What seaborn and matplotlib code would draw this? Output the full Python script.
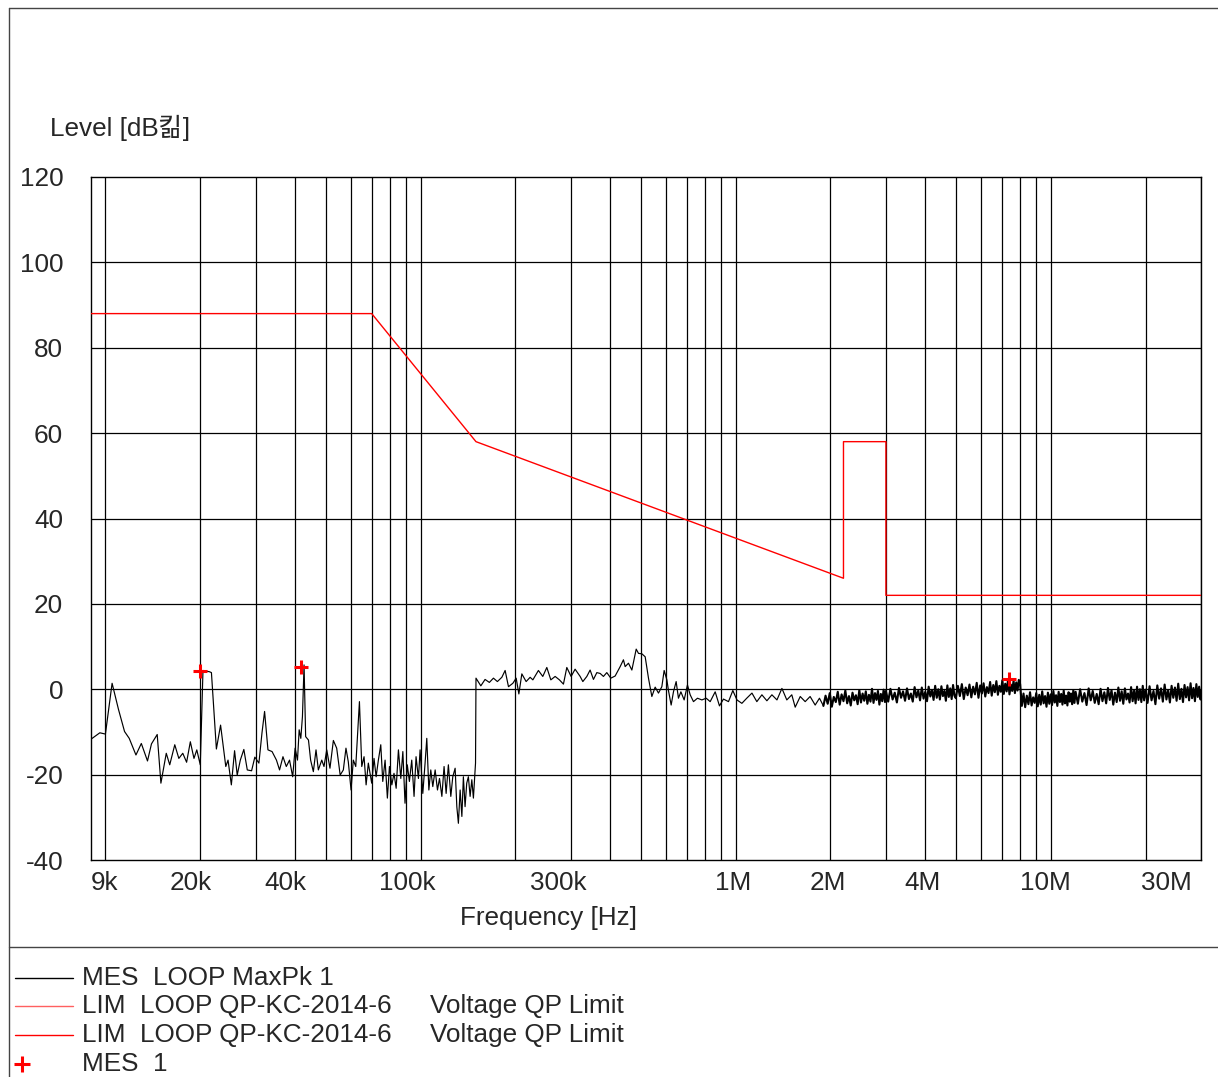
import numpy as np
import pandas as pd
import matplotlib
matplotlib.use('Agg')
from matplotlib import pyplot as plt
from matplotlib.lines import Line2D
from matplotlib.ticker import FixedLocator, NullFormatter
import matplotlib.transforms as mtransforms
import seaborn as sns

# MES LOOP MaxPk 1, 9k - 150k (kHz, dB)
freq_lo_khz = [9.0, 9.6, 10.0, 10.5, 11.0, 11.5, 11.9, 12.5, 13.0, 13.6,
               14.0, 14.6, 15.0, 15.6, 16.0, 16.6, 17.1, 17.6, 18.1, 18.6,
               19.1, 19.5, 20.0, 20.4, 21.4, 21.7, 22.5, 23.2, 24.1, 24.5,
               25.1, 25.7, 26.2, 26.8, 27.5, 28.2, 29.1, 29.8, 30.7, 31.4,
               32.0, 32.8, 33.8, 34.9, 35.7, 36.6, 37.5, 38.4, 39.3, 40.0,
               40.7, 41.2, 41.7, 42.2, 42.7, 43.2, 44.1, 44.8, 45.7, 46.6,
               47.4, 48.6, 49.4, 50.4, 51.6, 52.9, 54.2, 55.6, 56.9, 58.0,
               59.0, 60.2, 61.2, 62.3, 64.0, 65.1, 66.2, 67.2, 68.3, 70.0,
               71.2, 72.3, 73.5, 74.8, 75.9, 77.2, 78.5, 79.7, 81.1, 82.4,
               83.7, 85.1, 86.6, 87.9, 89.3, 90.8, 92.2, 93.8, 95.4, 96.8,
               98.5, 99.7, 101.7, 103.4, 104.7, 106.3, 107.8, 109.4, 111.3, 113.2,
               114.9, 116.9, 118.8, 120.6, 122.6, 124.8, 126.6, 128.8, 130.4, 131.9,
               133.6, 135.3, 136.8, 138.5, 140.2, 141.9, 143.7, 145.5, 147.2, 149.5]
level_lo = [-11.7, -10.2, -10.5, 1.4, -4.7, -9.9, -11.5, -15.4, -12.7, -16.8,
            -12.8, -10.6, -22.0, -15.0, -17.7, -13.0, -16.2, -15.0, -17.1, -12.3,
            -16.2, -14.2, -17.7, 4.4, 4.1, 3.9, -14.0, -8.4, -18.1, -16.6,
            -22.4, -14.4, -20.1, -16.6, -14.1, -18.9, -19.1, -15.9, -17.3, -10.2,
            -5.2, -14.2, -14.6, -16.6, -18.9, -15.8, -18.1, -16.6, -20.5, -13.8,
            -16.6, -9.5, -11.5, -6.4, 5.7, -11.1, -11.9, -16.6, -19.3, -14.2,
            -18.9, -16.6, -18.1, -14.2, -18.5, -12.0, -13.8, -20.1, -18.9, -13.8,
            -17.0, -23.6, -16.6, -18.1, -2.9, -18.1, -15.8, -22.4, -17.3, -22.0,
            -16.2, -20.5, -16.6, -13.0, -21.6, -16.6, -25.5, -18.1, -22.4, -19.7,
            -23.2, -14.2, -20.9, -14.6, -26.7, -17.7, -21.6, -16.6, -25.1, -15.8,
            -20.9, -14.2, -24.4, -17.3, -11.5, -23.6, -18.9, -22.8, -18.9, -23.6,
            -20.9, -25.1, -18.1, -24.4, -17.7, -25.1, -20.5, -18.5, -27.5, -31.4,
            -23.6, -29.8, -20.5, -27.5, -22.0, -20.5, -25.1, -21.2, -25.5, -17.3]

# 150k - 1.85M (kHz, dB)
freq_mid_khz = [150.0, 155.4, 160.3, 165.4, 170.4, 175.4, 181.2, 185.6, 190.2, 196.4,
                201.2, 205.2, 209.7, 216.4, 222.8, 227.3, 236.7, 244.4, 251.7, 259.2,
                267.5, 276.0, 284.2, 291.3, 300.6, 309.5, 321.1, 327.5, 337.2, 345.4,
                353.9, 362.8, 371.7, 380.7, 390.2, 401.8, 414.7, 430.2, 440.6, 446.2,
                457.1, 468.6, 483.7, 491.9, 504.3, 516.5, 529.1, 542.3, 555.6, 569.2,
                583.4, 593.3, 605.2, 612.3, 624.5, 635.1, 647.7, 658.7, 670.5, 686.7,
                703.5, 717.6, 735.1, 756.9, 781.6, 806.7, 830.6, 861.5, 888.9, 915.3,
                949.5, 980.1, 1010, 1047, 1085, 1127, 1168, 1212, 1257, 1304,
                1353, 1403, 1454, 1508, 1546, 1604, 1663, 1724, 1789, 1846]
level_mid = [2.6, 0.8, 2.3, 1.6, 2.6, 1.8, 2.8, 4.4, 0.6, 1.4,
             2.6, -1.1, 3.6, 1.8, 2.8, 2.2, 4.4, 3.0, 5.1, 2.2,
             3.0, 2.2, 1.2, 5.1, 3.0, 4.7, 3.0, 1.8, 3.0, 4.5,
             2.3, 3.9, 3.7, 3.0, 3.9, 2.6, 3.1, 5.3, 6.9, 5.3,
             6.1, 4.5, 9.4, 8.4, 8.3, 7.6, 2.6, -1.7, 0.5, -0.9,
             0.6, 4.4, 2.2, -0.3, -3.7, -0.6, 1.8, -2.1, -0.6, -2.5,
             1.0, -1.3, -2.9, -2.1, -2.5, -2.1, -2.9, -0.6, -3.9, -2.3,
             -2.9, -0.3, -2.5, -3.3, -2.1, -0.9, -2.9, -1.3, -2.7, -1.3,
             -2.5, 0.2, -2.5, -1.3, -4.2, -1.7, -2.9, -1.7, -3.7, -2.1]

# 1.9M - 30M, dense sweep (MHz, dB)
freq_hi_mhz = [1.90, 1.93, 1.96, 1.99, 2.02, 2.05, 2.08, 2.11, 2.14, 2.17,
               2.20, 2.23, 2.26, 2.29, 2.32, 2.35, 2.38, 2.41, 2.44, 2.47,
               2.50, 2.53, 2.56, 2.59, 2.62, 2.65, 2.68, 2.71, 2.74, 2.77,
               2.80, 2.83, 2.86, 2.89, 2.92, 2.95, 2.98,
               3.00, 3.05, 3.10, 3.15, 3.20, 3.25, 3.30, 3.35, 3.40, 3.45,
               3.50, 3.55, 3.60, 3.65, 3.70, 3.75, 3.80, 3.85, 3.90, 3.95,
               4.00, 4.05, 4.10, 4.15, 4.20, 4.25, 4.30, 4.35, 4.40, 4.45,
               4.50, 4.55, 4.60, 4.65, 4.70, 4.75, 4.80, 4.85, 4.90, 4.95,
               5.000, 5.075, 5.150, 5.225, 5.300, 5.375, 5.450, 5.525, 5.600, 5.675,
               5.750, 5.825, 5.900, 5.975, 6.050, 6.125, 6.200, 6.275, 6.350, 6.425,
               6.500, 6.575, 6.650, 6.725, 6.800, 6.875, 6.950, 7.025, 7.100, 7.175,
               7.250, 7.325, 7.400, 7.475, 7.550, 7.625, 7.700, 7.775, 7.850, 7.925,
               8.000,
               8.1, 8.2, 8.3, 8.4, 8.5, 8.6, 8.7, 8.8, 8.9, 9.0,
               9.1, 9.2, 9.3, 9.4, 9.5, 9.6, 9.7, 9.8, 9.9, 10.0,
               10.1, 10.2, 10.3, 10.4, 10.5, 10.6, 10.7, 10.8, 10.9, 11.0,
               11.1, 11.2, 11.3, 11.4, 11.5, 11.6, 11.7, 11.8, 11.9,
               12.0, 12.2, 12.4, 12.6, 12.8, 13.0, 13.2, 13.4, 13.6, 13.8,
               14.0, 14.2, 14.4, 14.6, 14.8, 15.0, 15.2, 15.4, 15.6, 15.8,
               16.0, 16.2, 16.4, 16.6, 16.8, 17.0, 17.2, 17.4, 17.6, 17.8,
               18.0, 18.2, 18.4, 18.6, 18.8, 19.0, 19.2, 19.4, 19.6, 19.8,
               20.0, 20.3, 20.6, 20.9, 21.2, 21.5, 21.8, 22.1, 22.4, 22.7,
               23.0, 23.3, 23.6, 23.9, 24.2, 24.5, 24.8, 25.1, 25.4, 25.7,
               26.0, 26.3, 26.6, 26.9, 27.2, 27.5, 27.8, 28.1, 28.4, 28.7,
               29.0, 29.3, 29.6, 29.9, 30.0]
level_hi = [-3.9, -1.5, -3.4, -0.9, -4.1, -1.8, -3.0, -0.6, -3.6, -1.2,
            -2.8, -0.3, -3.3, -1.6, -3.8, -0.8, -2.6, -1.4, -3.5, -0.2,
            -3.1, -1.0, -2.7, -0.5, -3.4, -1.3, -2.9, 0.1, -3.2, -0.9,
            -2.5, -0.4, -3.6, -1.1, -2.8, -0.1, -3.0,
            -0.4, -2.9, 0.1, -2.4, -0.8, -3.1, 0.3, -2.0, -0.5, -2.7,
            0.2, -2.3, -1.0, -2.9, 0.5, -1.9, -0.3, -2.6, 0.4, -2.2,
            -0.6, -2.8, 0.6, -1.7, -0.2, -2.5, 0.8, -2.0, 0.0, -2.4,
            0.7, -1.6, -0.4, -2.7, 0.9, -1.8, 0.2, -2.3, 1.0, -1.5,
            -2.1, 0.8, -1.6, 1.2, -2.3, 0.4, -1.4, 1.1, -1.9, 0.6,
            -1.2, 1.5, -2.0, 0.9, -1.0, 1.4, -1.7, 0.5, -0.9, 1.7,
            -1.5, 1.0, -0.7, 1.9, -1.3, 0.8, -0.6, 2.1, -1.1, 1.3,
            -0.5, 2.3, -1.2, 1.1, -0.4, 2.0, -0.9, 1.6, -0.3, 2.2,
            1.2,
            -3.9, -1.0, -4.2, -1.5, -3.5, -0.7, -3.8, -1.9, -3.2, -0.9,
            -4.0, -1.3, -3.6, -0.5, -3.3, -1.6, -4.1, -0.8, -3.4, -1.2,
            -3.7, -0.4, -3.1, -1.4, -3.9, -0.6, -3.0, -1.1, -3.6, -0.3,
            -3.3, -1.5, -3.8, -0.7, -2.9, -1.0, -3.5, -0.2, -3.2,
            -0.6, -3.4, 0.0, -2.9, -0.9, -3.7, 0.2, -2.6, -0.4, -3.2,
            -1.1, -3.5, 0.1, -2.8, -0.7, -3.3, 0.3, -2.5, -0.2, -3.6,
            -0.8, -3.0, 0.4, -2.7, -0.5, -3.4, 0.2, -2.4, -1.0, -3.1,
            0.5, -2.8, -0.3, -3.3, 0.6, -2.5, 0.0, -3.0, 0.8, -2.6,
            -0.1, -3.2, 0.7, -2.6, -0.4, -3.5, 0.9, -2.2, 0.2, -2.9,
            1.1, -2.4, -0.2, -3.1, 0.8, -2.0, 0.4, -2.7, 1.3, -2.3,
            0.1, -3.0, 1.0, -1.9, 0.5, -2.6, 1.4, -2.1, 0.3, -2.8,
            1.2, -1.8, 0.6, -2.4, -0.5]

# LIM LOOP QP-KC-2014-6
lim_khz = [9, 70, 150, 2200, 2200, 3000, 3000, 30000]
lim_db = [88, 88, 58, 26, 58, 58, 22, 22]

# MES 1 (final measurement points)
mk_khz = [20.0, 41.8, 7350]
mk_db = [4.3, 5.2, 2.3]

tick_freqs = [9e3, 2e4, 4e4, 1e5, 3e5, 1e6, 2e6, 4e6, 1e7, 3e7]
tick_labels = ['9k', '20k', '40k', '100k', '300k', '1M', '2M', '4M', '10M', '30M']
tick_shift_px = [14, -10, -10, -13, -13, -2, -3, -3, -5, -35]

sns.set_style('white')
plt.rcParams['font.family'] = ['Liberation Sans', 'Noto Sans CJK KR', 'DejaVu Sans']
plt.rcParams['axes.unicode_minus'] = False
fs = 18.8

W, H = 1218, 1077
fig = plt.figure(figsize=(W / 100, H / 100), dpi=100)
ax = fig.add_axes([91 / W, 1 - 860 / H, 1110 / W, 683 / H])

mes_low = pd.DataFrame({
    'f': [v * 1e3 for v in freq_lo_khz] + [v * 1e3 for v in freq_mid_khz] + [freq_hi_mhz[0] * 1e6],
    'level': level_lo + level_mid + [level_hi[0]],
})
mes_high = pd.DataFrame({'f': [v * 1e6 for v in freq_hi_mhz], 'level': level_hi})
lim = pd.DataFrame({'f': [v * 1e3 for v in lim_khz], 'level': lim_db})
mk = pd.DataFrame({'f': [v * 1e3 for v in mk_khz], 'level': mk_db})

ax.set_xscale('log')
sns.lineplot(data=lim, x='f', y='level', ax=ax, color='#ff0000', lw=1.0,
             estimator=None, sort=False, zorder=3)
sns.lineplot(data=mes_low, x='f', y='level', ax=ax, color='black', lw=0.85,
             estimator=None, sort=False, zorder=4)
sns.lineplot(data=mes_high, x='f', y='level', ax=ax, color='black', lw=1.5,
             estimator=None, sort=False, zorder=4)
sns.scatterplot(data=mk, x='f', y='level', ax=ax, marker='+', color='#ff0000',
                s=110, linewidth=2.2, zorder=5)

ax.set_xlim(9e3, 3e7)
ax.set_ylim(-40, 120)
ax.set_yticks(range(-40, 121, 20))

grid_f = [m * d for d in (1e4, 1e5, 1e6, 1e7) for m in range(1, 10) if m * d <= 3e7]
ax.xaxis.set_minor_locator(FixedLocator(grid_f))
ax.xaxis.set_minor_formatter(NullFormatter())
ax.set_xticks(tick_freqs)
ax.set_xticklabels(tick_labels)
ax.grid(False)
for gf in grid_f:
    ax.axvline(gf, color='black', lw=0.9, zorder=1)
for gy in range(-20, 120, 20):
    ax.axhline(gy, color='black', lw=0.9, zorder=1)

ax.tick_params(axis='both', which='both', length=0, labelsize=fs)
ax.tick_params(axis='y', pad=20)
ax.tick_params(axis='x', pad=8)
for lab, dx in zip(ax.get_xticklabels(), tick_shift_px):
    lab.set_transform(lab.get_transform() + mtransforms.ScaledTranslation(dx / 100, 0, fig.dpi_scale_trans))

for s in ax.spines.values():
    s.set_color('black')
    s.set_linewidth(1.0)

ax.set_xlabel('Frequency [Hz]', fontsize=fs, va='center')
ax.xaxis.set_label_coords((548 - 91) / 1110, (860 - 918) / 683)
ax.set_ylabel('Level [dB킮]', fontsize=fs, rotation=0, ha='left', va='center')
ax.yaxis.set_label_coords((50 - 91) / 1110, (860 - 128) / 683)

# outer frame and legend block
fig.add_artist(Line2D([9 / W, 1.0], [1 - 8 / H, 1 - 8 / H], color='#444444', lw=1.0))
fig.add_artist(Line2D([9 / W, 9 / W], [0, 1 - 8 / H], color='#444444', lw=1.0))
fig.add_artist(Line2D([9 / W, 1.0], [1 - 947 / H, 1 - 947 / H], color='#444444', lw=1.0))

rows = [978, 1006, 1035, 1064]
names = ['MES  LOOP MaxPk 1', 'LIM  LOOP QP-KC-2014-6', 'LIM  LOOP QP-KC-2014-6', 'MES  1']
extra = ['', 'Voltage QP Limit', 'Voltage QP Limit', '']
colors = ['black', '#ff6060', '#ff0000', None]
for y, name, ex, c in zip(rows, names, extra, colors):
    yy = 1 - y / H
    if c is not None:
        fig.add_artist(Line2D([15 / W, 73 / W], [yy, yy], color=c, lw=1.0))
    else:
        fig.add_artist(Line2D([22 / W], [yy], marker='+', color='#ff0000', ms=11, mew=2.2, lw=0))
    fig.text(82 / W, yy, name, fontsize=fs, va='center', ha='left')
    if ex:
        fig.text(430 / W, yy, ex, fontsize=fs, va='center', ha='left')

fig.savefig('out.png', dpi=100)
